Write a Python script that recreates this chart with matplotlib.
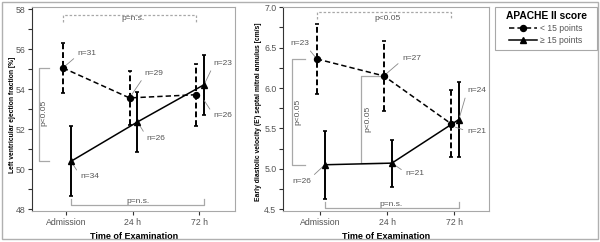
import matplotlib
matplotlib.use("Agg")
import matplotlib.pyplot as plt
from matplotlib.lines import Line2D
from matplotlib.patches import Rectangle

plt.rcParams['font.family'] = ['Liberation Sans', 'DejaVu Sans']

# 数据
times = ['Admission', '24 h', '72 h']

ef_low = [55.07, 53.57, 53.73]
ef_low_err = [1.25, 1.35, 1.55]
ef_high = [50.4, 52.37, 54.23]
ef_high_err = [1.75, 1.5, 1.5]
ef_low_n = ['n=31', 'n=29', 'n=26']
ef_high_n = ['n=34', 'n=26', 'n=23']

ev_low = [6.36, 6.15, 5.56]
ev_low_err = [0.43, 0.43, 0.41]
ev_high = [5.05, 5.07, 5.61]
ev_high_err = [0.42, 0.29, 0.46]
ev_low_n = ['n=23', 'n=27', 'n=21']
ev_high_n = ['n=26', 'n=21', 'n=24']

GRAY = '#a8a8a8'
TXT = '#555555'
OFF_LOW, OFF_HIGH = -0.05, 0.07


def draw_series(ax, low, low_err, high, high_err):
    x = range(len(times))
    xl = [i + OFF_LOW for i in x]
    xh = [i + OFF_HIGH for i in x]
    eb = ax.errorbar(xl, low, yerr=low_err, color='black', ls='--', lw=1.1,
                     marker='o', ms=4.3, elinewidth=1.4, capsize=1.5, capthick=1.2,
                     dashes=(3.5, 2), zorder=3)
    eb[2][0].set_linestyle((0, (3, 1.5)))
    ax.errorbar(xh, high, yerr=high_err, color='black', ls='-', lw=1.1,
                marker='^', ms=4.3, elinewidth=1.4, capsize=1.5, capthick=1.2, zorder=3)
    return xl, xh


def style_axis(ax):
    for s in ['top', 'right', 'bottom']:
        ax.spines[s].set_color(GRAY)
        ax.spines[s].set_linewidth(0.8)
    ax.spines['left'].set_color('#333333')
    ax.spines['left'].set_linewidth(0.8)
    ax.set_xticks(range(len(times)))
    ax.set_xticklabels(times)
    ax.tick_params(axis='both', which='both', length=3, width=0.8, color='#333333',
                   labelsize=6.3, labelcolor=TXT, pad=2)
    ax.set_xlabel('Time of Examination', fontsize=6.5, fontweight='bold', labelpad=4)


def bracket_h(ax, x0, x1, y, tick, ls='-'):
    ax.plot([x0, x0, x1, x1], [y + tick, y, y, y + tick], color=GRAY, lw=0.9, ls=ls,
            clip_on=False)


def bracket_v(ax, x, y0, y1, tick):
    ax.plot([x + tick, x, x, x + tick], [y0, y0, y1, y1], color=GRAY, lw=0.9, clip_on=False)


def note(ax, label, xy, xytext, ha='left', relpos=(0, 0.5)):
    ax.annotate(label, xy=xy, xytext=xytext, fontsize=6, color=TXT, ha=ha, va='center',
                arrowprops=dict(arrowstyle='-', color='#888888', lw=0.6, relpos=relpos,
                                shrinkA=1, shrinkB=1))


fig = plt.figure(figsize=(6, 2.42), dpi=100)
fig.patches.append(Rectangle((0.004, 0.012), 0.992, 0.98, transform=fig.transFigure,
                             fill=False, ec='#b0b0b0', lw=1))

# 左图
ax1 = fig.add_axes([0.0538, 0.129, 0.3385, 0.841])
xl, xh = draw_series(ax1, ef_low, ef_low_err, ef_high, ef_high_err)
ax1.set_xlim(-0.51, 2.54)
ax1.set_ylim(47.93, 58.1)
ax1.set_yticks([48, 50, 52, 54, 56, 58])
ax1.set_yticks(range(48, 59), minor=True)
style_axis(ax1)
ax1.set_ylabel('Left ventricular ejection fraction [%]', fontsize=4.9, fontweight='bold')
ax1.yaxis.set_label_coords(-0.08, 0.47)

bracket_h(ax1, xl[0], xl[2], 57.7, -0.35, ls=(0, (2, 1.5)))
ax1.text(1, 57.55, 'p=n.s.', fontsize=6, color=TXT, ha='center', va='center')
bracket_h(ax1, xh[0], xh[2], 48.21, 0.3)
ax1.text(1.08, 48.22, 'p=n.s.', fontsize=6, color=TXT, ha='center', va='bottom')
bracket_v(ax1, -0.41, ef_low[0], ef_high[0], 0.15)
ax1.text(-0.33, 52.8, 'p<0.05', fontsize=6, color=TXT, ha='center', va='center',
         rotation=90)

note(ax1, ef_low_n[0], (xl[0], ef_low[0]), (0.17, 55.8), relpos=(0, 0.2))
note(ax1, ef_low_n[1], (xl[1], ef_low[1]), (1.18, 54.8), relpos=(0, 0.2))
note(ax1, ef_low_n[2], (2.06, 53.5), (2.21, 52.67), relpos=(0, 0.7))
note(ax1, ef_high_n[0], (xh[0], ef_high[0]), (0.21, 49.63), relpos=(0, 0.7))
note(ax1, ef_high_n[1], (xh[1], ef_high[1]), (1.21, 51.55), relpos=(0, 0.7))
note(ax1, ef_high_n[2], (xh[2], ef_high[2]), (2.21, 55.3), relpos=(0, 0.2))

# 右图
ax2 = fig.add_axes([0.4722, 0.129, 0.3428, 0.841])
xl, xh = draw_series(ax2, ev_low, ev_low_err, ev_high, ev_high_err)
ax2.set_xlim(-0.55, 2.52)
ax2.set_ylim(4.48, 7.0)
ax2.set_yticks([4.5, 5.0, 5.5, 6.0, 6.5, 7.0])
ax2.set_yticks([4.5 + 0.25 * i for i in range(11)], minor=True)
ax2.yaxis.set_major_formatter(matplotlib.ticker.FormatStrFormatter('%.1f'))
style_axis(ax2)
ax2.set_ylabel("Early diastolic velocity (E') septal mitral annulus [cm/s]", fontsize=4.9,
               fontweight='bold')
ax2.yaxis.set_label_coords(-0.106, 0.485)

bracket_h(ax2, xl[0], xl[2], 6.945, -0.09, ls=(0, (2, 1.5)))
ax2.text(1, 6.86, 'p<0.05', fontsize=6, color=TXT, ha='center', va='center')
bracket_h(ax2, xh[0], xh[2], 4.51, 0.08)
ax2.text(1.06, 4.515, 'p=n.s.', fontsize=6, color=TXT, ha='center', va='bottom')
bracket_v(ax2, -0.42, ev_low[0], ev_high[0], 0.2)
ax2.text(-0.33, 5.7, 'p<0.05', fontsize=6, color=TXT, ha='center', va='center', rotation=90)
bracket_v(ax2, 0.61, ev_low[1], ev_high[1], 0.31)
ax2.text(0.72, 5.62, 'p<0.05', fontsize=6, color=TXT, ha='center', va='center', rotation=90)

note(ax2, ev_low_n[0], (xl[0], ev_low[0]), (-0.3, 6.55), ha='center', relpos=(0.85, 0.1))
note(ax2, ev_low_n[1], (xl[1], ev_low[1]), (1.22, 6.36), relpos=(0, 0.3))
note(ax2, ev_low_n[2], (2.0, 5.52), (2.19, 5.46), relpos=(0, 0.6))
note(ax2, ev_high_n[0], (xh[0], ev_high[0]), (-0.27, 4.84), ha='center', relpos=(0.9, 0.9))
note(ax2, ev_high_n[1], (xh[1], ev_high[1]), (1.27, 4.94), relpos=(0, 0.7))
note(ax2, ev_high_n[2], (xh[2], ev_high[2]), (2.19, 5.97), relpos=(0, 0.3))

# 图例（外框单独画）
fig.patches.append(Rectangle((0.825, 0.793), 0.17, 0.178, transform=fig.transFigure,
                             fill=False, ec=GRAY, lw=0.8))
handles = [
    Line2D([], [], color='black', ls='--', lw=1.1, marker='o', ms=4.3, dashes=(3.5, 2)),
    Line2D([], [], color='black', ls='-', lw=1.1, marker='^', ms=4.3),
]
leg = fig.legend(handles, ['< 15 points', '≥ 15 points'], loc='upper center',
                 bbox_to_anchor=(0.91, 0.975), title='APACHE II score', fontsize=6.2,
                 title_fontproperties={'weight': 'bold', 'size': 7.4}, frameon=False,
                 handlelength=3.2, handletextpad=0.4,
                 borderpad=0.55, labelspacing=0.35, borderaxespad=0)
for t in leg.get_texts():
    t.set_color(TXT)

fig.savefig('out.png', dpi=100)
